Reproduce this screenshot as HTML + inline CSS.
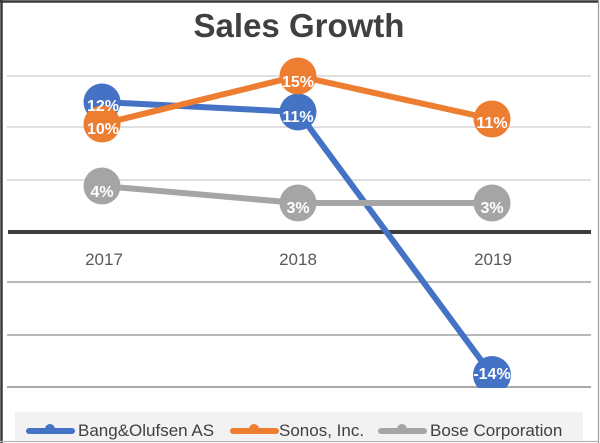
<!DOCTYPE html>
<html>
<head>
<meta charset="utf-8">
<style>
  html,body{margin:0;padding:0;background:#fff;}
  svg{display:block;}
</style>
</head>
<body>
<svg width="600" height="443" viewBox="0 0 600 443" xmlns="http://www.w3.org/2000/svg">
  <rect x="0" y="0" width="600" height="443" fill="#ffffff"/>
  <!-- outer border -->
  <line x1="0" y1="1.5" x2="599" y2="1.5" stroke="#3a3a3a" stroke-width="2.5"/>
  <line x1="1.5" y1="0" x2="1.5" y2="443" stroke="#3a3a3a" stroke-width="2.5"/>
  <line x1="598.5" y1="0" x2="598.5" y2="443" stroke="#9a9a9a" stroke-width="1.2"/>
  <line x1="0" y1="441.5" x2="599" y2="441.5" stroke="#b5b5b5" stroke-width="1.2"/>

  <!-- title -->
  <text x="299" y="37" text-anchor="middle" font-family="Liberation Sans, sans-serif" font-weight="bold" font-size="33" fill="#404040">Sales Growth</text>

  <!-- gridlines -->
  <g stroke-width="2">
    <line x1="7" y1="76" x2="591" y2="76" stroke="#e0e0e0"/>
    <line x1="7" y1="127" x2="591" y2="127" stroke="#e0e0e0"/>
    <line x1="7" y1="180" x2="591" y2="180" stroke="#e0e0e0"/>
    <line x1="7" y1="282" x2="591" y2="282" stroke="#b8b8b8"/>
    <line x1="7" y1="335" x2="591" y2="335" stroke="#b8b8b8"/>
    <line x1="7" y1="387" x2="591" y2="387" stroke="#a8a8a8"/>
  </g>
  <!-- zero axis -->
  <line x1="8" y1="232" x2="591" y2="232" stroke="#3d3d3d" stroke-width="4"/>

  <!-- category labels -->
  <g font-family="Liberation Sans, sans-serif" font-size="17" fill="#595959" text-anchor="middle">
    <text x="104" y="265">2017</text>
    <text x="298" y="265">2018</text>
    <text x="493" y="265">2019</text>
  </g>

  <defs>
    <clipPath id="plot"><rect x="5" y="45" width="590" height="343"/></clipPath>
  </defs>

  <g clip-path="url(#plot)">
    <!-- Blue series -->
    <polyline points="102,102 298,112 492,375" fill="none" stroke="#4472C4" stroke-width="6" stroke-linejoin="round"/>
    <circle cx="102" cy="102" r="18.5" fill="#4472C4"/>
    <circle cx="298" cy="112" r="18.5" fill="#4472C4"/>
    <circle cx="492" cy="375" r="19" fill="#4472C4"/>
    <!-- Orange series -->
    <polyline points="102,124 298,76 492,119" fill="none" stroke="#ED7D31" stroke-width="6" stroke-linejoin="round"/>
    <circle cx="102" cy="124" r="18.5" fill="#ED7D31"/>
    <circle cx="298" cy="76" r="18.5" fill="#ED7D31"/>
    <circle cx="492" cy="119" r="18.5" fill="#ED7D31"/>
    <!-- Gray series -->
    <polyline points="102,186 298,203 492,203" fill="none" stroke="#A5A5A5" stroke-width="6" stroke-linejoin="round"/>
    <circle cx="102" cy="186" r="18.5" fill="#A5A5A5"/>
    <circle cx="298" cy="203" r="18.5" fill="#A5A5A5"/>
    <circle cx="492" cy="203" r="18.5" fill="#A5A5A5"/>
  </g>

  <!-- data labels -->
  <g font-family="Liberation Sans, sans-serif" font-weight="bold" font-size="16" fill="#ffffff" text-anchor="middle">
    <text x="103" y="111">12%</text>
    <text x="298" y="122">11%</text>
    <text x="492" y="379">-14%</text>
    <text x="103" y="134">10%</text>
    <text x="298" y="87">15%</text>
    <text x="492" y="128">11%</text>
    <text x="102" y="197">4%</text>
    <text x="298" y="213">3%</text>
    <text x="492" y="213">3%</text>
  </g>

  <!-- legend -->
  <rect x="15" y="412" width="568" height="29" fill="#f2f2f2"/>
  <g stroke-width="6" stroke-linecap="round">
    <line x1="29" y1="431" x2="72" y2="431" stroke="#4472C4"/>
    <line x1="233" y1="431" x2="276" y2="431" stroke="#ED7D31"/>
    <line x1="381" y1="431" x2="424" y2="431" stroke="#A5A5A5"/>
  </g>
  <circle cx="50" cy="429" r="5" fill="#4472C4"/>
  <circle cx="254" cy="429" r="5" fill="#ED7D31"/>
  <circle cx="402" cy="429" r="5" fill="#A5A5A5"/>
  <g font-family="Liberation Sans, sans-serif" font-size="17" fill="#404040">
    <text x="78" y="436">Bang&amp;Olufsen AS</text>
    <text x="279" y="436">Sonos, Inc.</text>
    <text x="430" y="436">Bose Corporation</text>
  </g>
</svg>
</body>
</html>
